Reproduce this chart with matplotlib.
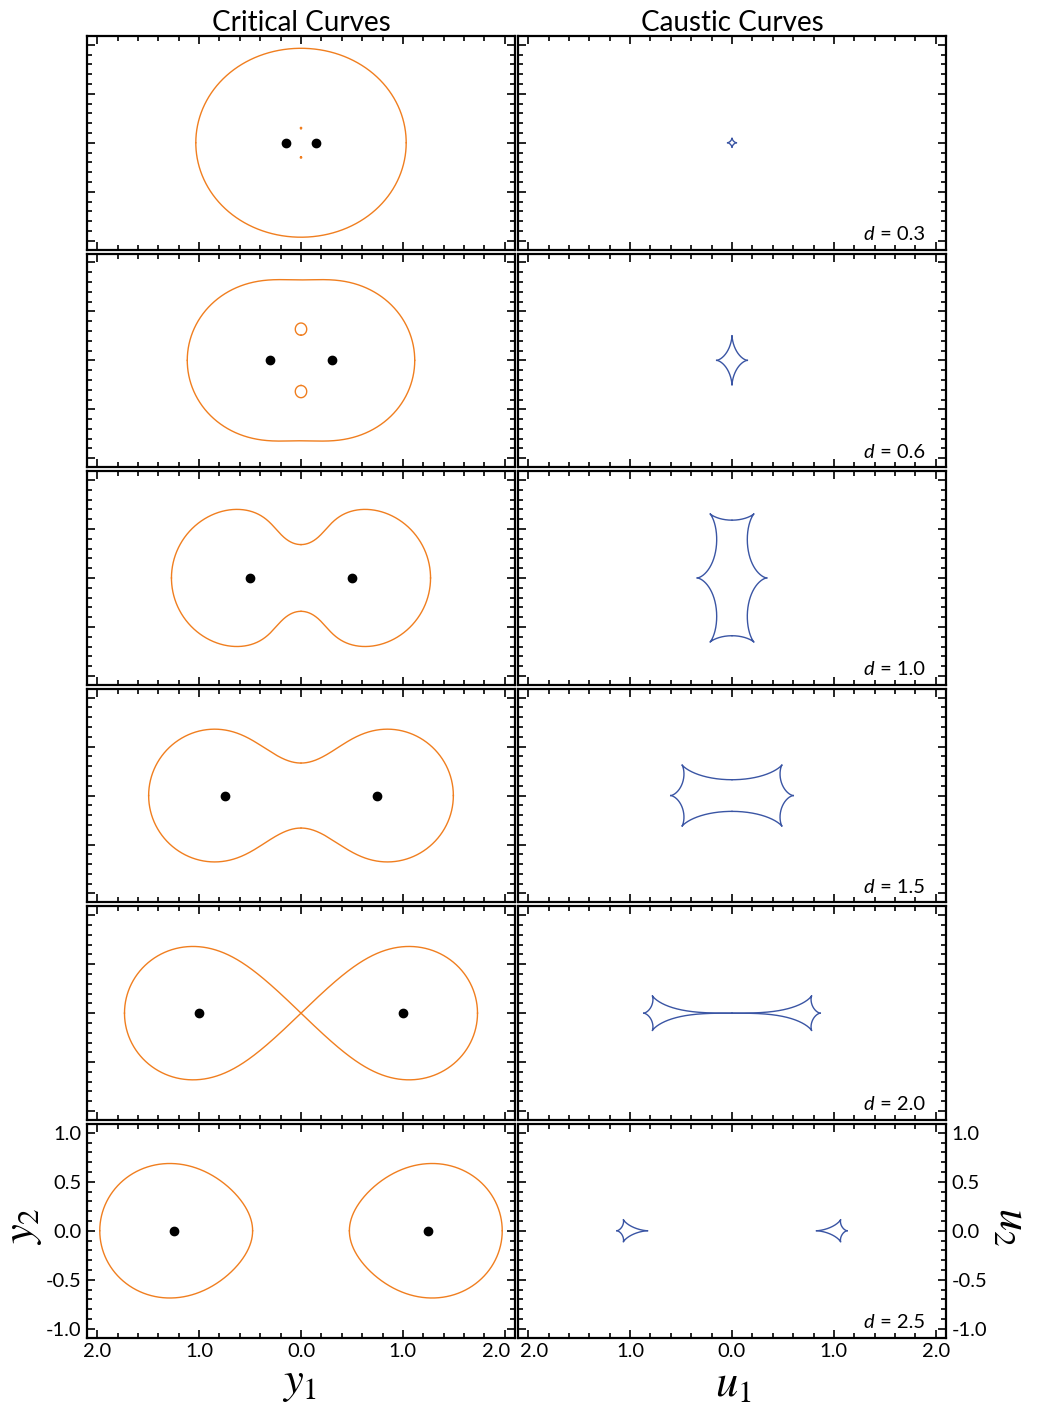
# Critical curves and caustics of an equal-mass binary lens

import itertools
import numpy as np
import matplotlib.pyplot as plt
from matplotlib.ticker import MultipleLocator, FixedLocator, FuncFormatter
from matplotlib.offsetbox import TextArea, HPacker, AnchoredOffsetbox
from matplotlib.transforms import ScaledTranslation

separations = [0.3, 0.6, 1.0, 1.5, 2.0, 2.5]
masses = [0.5, 0.5]
col_titles = ['Critical Curves', 'Caustic Curves']
x_ticks = [-2.0, -1.0, 0.0, 1.0, 2.0]
y_ticks = [-1.0, -0.5, 0.0, 0.5, 1.0]

orange = '#F07E1F'
blue = '#3A55A4'
font = 'Lato'

plt.rcParams['font.family'] = font
plt.rcParams['mathtext.fontset'] = 'stix'
plt.rcParams['axes.unicode_minus'] = False

W, H = 1039, 1404
fig = plt.figure(figsize=(W / 100, H / 100), dpi=100)

perms = [list(p) for p in itertools.permutations(range(4))]


def critical_tracks(d, m1, m2, n=3000):
    # solve sum m_i/(z - z_i)^2 = e^{i phi} for each phi and follow the 4 roots
    z1, z2 = -d / 2, d / 2
    q1 = np.polymul([1, -z1], [1, -z1])
    q2 = np.polymul([1, -z2], [1, -z2])
    quart = np.polymul(q1, q2).astype(complex)
    rest = np.polyadd(m1 * q2, m2 * q1)
    out = np.empty((n, 4), complex)
    prev = None
    for k, phi in enumerate(np.linspace(0, 2 * np.pi, n)):
        poly = np.polysub(np.exp(1j * phi) * quart, rest)
        r = np.roots(poly)
        if prev is not None:
            best = min(perms, key=lambda p: np.sum(np.abs(r[p] - prev)))
            r = r[best]
        out[k] = r
        prev = r
    return out, z1, z2


def to_source(z, z1, z2, m1, m2):
    return z - m1 / (np.conj(z) - z1) - m2 / (np.conj(z) - z2)


def draw(ax, pts, color):
    for j in range(pts.shape[1]):
        c = pts[:, j]
        jump = np.abs(np.diff(c)) > 0.15
        x, y = c.real.copy(), c.imag.copy()
        x[1:][jump] = np.nan
        ax.plot(x, y, color=color, lw=1.0)


def style(ax, bottom, side):
    ax.set_xlim(-2.1, 2.1)
    ax.set_ylim(-1.09, 1.09)
    ax.xaxis.set_major_locator(FixedLocator(x_ticks))
    ax.xaxis.set_minor_locator(MultipleLocator(0.2))
    ax.yaxis.set_major_locator(FixedLocator(y_ticks))
    ax.yaxis.set_minor_locator(MultipleLocator(0.1))
    ax.tick_params(which='both', direction='in', top=True, right=True, width=1.2,
                   labelsize=14.5, pad=4)
    ax.tick_params(which='major', length=6)
    ax.tick_params(which='minor', length=3.5)
    for s in ax.spines.values():
        s.set_linewidth(1.6)
    ax.xaxis.set_major_formatter(FuncFormatter(lambda v, p: f'{abs(v):.1f}'))
    ax.yaxis.set_major_formatter(FuncFormatter(lambda v, p: f'{v:.1f}'))
    ax.tick_params(labelbottom=bottom, labelleft=(bottom and side == 'left'),
                   labelright=(bottom and side == 'right'))
    if bottom:
        # outer labels sit slightly inward, as in the original
        ticks = ax.xaxis.get_major_ticks(len(x_ticks))
        k, dx = (-1, -9) if side == 'left' else (0, 6)
        lab = ticks[k].label1
        lab.set_transform(lab.get_transform() + ScaledTranslation(dx / 100, 0, fig.dpi_scale_trans))


lefts = [87, 518]
width = 428
top0, pitch, height = 36, 217.6, 213.5
m1, m2 = masses

for i, d in enumerate(separations):
    top = top0 + i * pitch
    crit, z1, z2 = critical_tracks(d, m1, m2)
    caus = to_source(crit, z1, z2, m1, m2)
    last = i == len(separations) - 1
    for c in range(2):
        ax = fig.add_axes([lefts[c] / W, 1 - (top + height) / H, width / W, height / H])
        style(ax, last, 'left' if c == 0 else 'right')
        if c == 0:
            draw(ax, crit, orange)
            ax.plot([z1, z2], [0, 0], 'o', color='black', ms=6, zorder=5)
        else:
            draw(ax, caus, blue)
            box = HPacker(children=[
                TextArea('d', textprops=dict(style='italic', size=14.5, family=font)),
                TextArea(f' = {d:.1f}', textprops=dict(size=14.5, family=font))],
                align='baseline', pad=0, sep=1)
            ab = AnchoredOffsetbox(loc='lower right', child=box, frameon=False,
                                   bbox_to_anchor=(0.952, 0.03), bbox_transform=ax.transAxes,
                                   borderpad=0.0, pad=0)
            ax.add_artist(ab)
        if i == 0:
            ax.set_title(col_titles[c], fontsize=20, pad=3)

fig.text(24 / W, 1 - 1226 / H, '$y_2$', fontsize=32, rotation=90, ha='center', va='center')
fig.text(1013 / W, 1 - 1226 / H, '$u_2$', fontsize=32, rotation=270, ha='center', va='center')
fig.text(300 / W, 1 - 1384 / H, '$y_1$', fontsize=32, ha='center', va='center')
fig.text(733 / W, 1 - 1384 / H, '$u_1$', fontsize=32, ha='center', va='center')

fig.savefig('out.png', dpi=100)
